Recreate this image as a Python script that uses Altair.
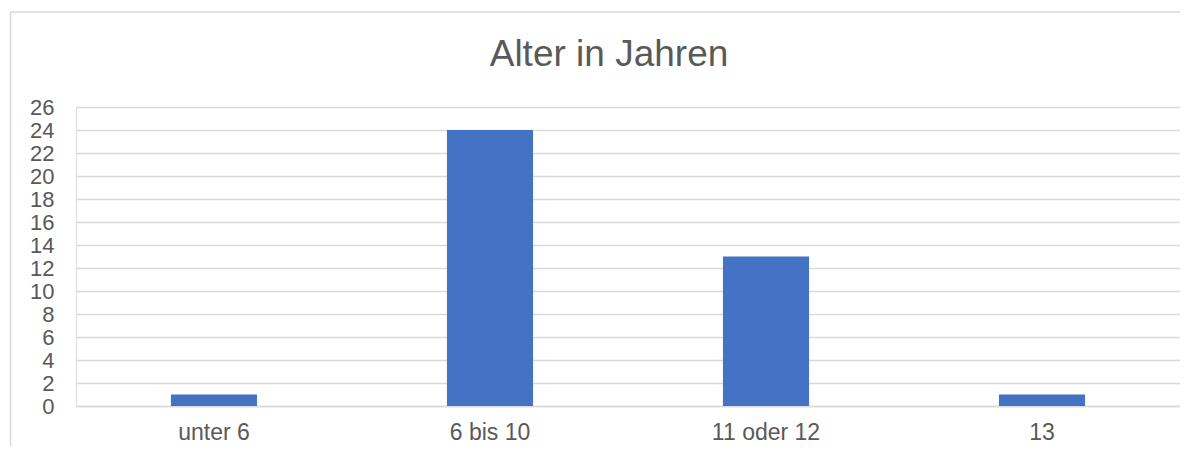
import altair as alt
import pandas as pd

categories = ["unter 6", "6 bis 10", "11 oder 12", "13"]
values = [1, 24, 13, 1]
y_ticks = list(range(0, 27, 2))
title_text = "Alter in Jahren"

df = pd.DataFrame({"Alter": categories, "Anzahl": values})

FONT = "Liberation Sans"
GREY = "#595959"
GRID = "#d9d9d9"

bars = alt.Chart(df).mark_bar(color="#4472C4").encode(
    x=alt.X("Alter:N", sort=categories,
            scale=alt.Scale(paddingInner=0.688, paddingOuter=0.344),
            axis=alt.Axis(title=None, labelAngle=0, labelFont=FONT, labelFontSize=23,
                          labelColor=GREY, ticks=False, domain=True, domainColor=GRID,
                          domainWidth=1.5, labelPadding=15)),
    y=alt.Y("Anzahl:Q", scale=alt.Scale(domain=[0, 26], nice=False),
            axis=alt.Axis(title=None, values=y_ticks, labelFont=FONT, labelFontSize=22,
                          labelColor=GREY, ticks=False, domain=False, grid=True,
                          gridColor=GRID, gridWidth=1.5, labelPadding=22,
                          labelBaseline="middle")),
)

base = alt.Chart(pd.DataFrame({"t": [title_text]}))

top_border = base.mark_rule(color=GRID, strokeWidth=1.5, clip=False).encode(
    x=alt.value(-65.5), x2=alt.value(1200), y=alt.value(-95)
)
left_border = base.mark_rule(color=GRID, strokeWidth=1.5, clip=False).encode(
    x=alt.value(-65.5), y=alt.value(-95), y2=alt.value(420)
)
title = base.mark_text(font=FONT, fontSize=37, color=GREY, align="center",
                       baseline="alphabetic", clip=False).encode(
    text="t:N", x=alt.value(533), y=alt.value(-41)
)

chart = alt.layer(top_border, left_border, title, bars).properties(
    width=1104,
    height=299,
    autosize=alt.AutoSizeParams(type="none"),
    padding={"left": 68, "top": 99, "right": 0, "bottom": 40},
).configure_view(stroke=None).configure(background="white")

chart.save("out.html", embed_options={"renderer": "svg", "actions": False})
